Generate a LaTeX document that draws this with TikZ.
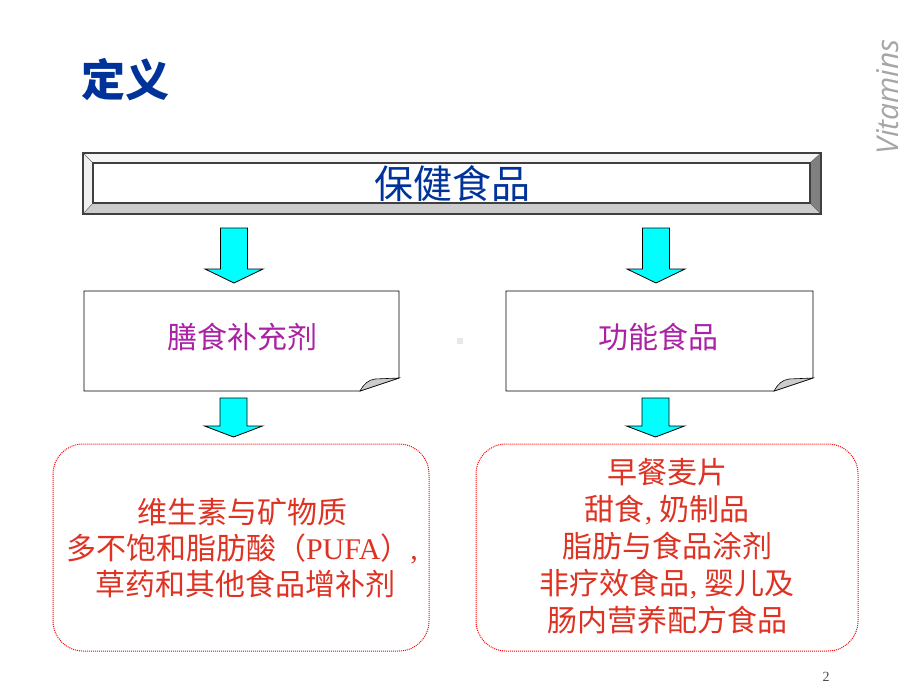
\documentclass[tikz,border=0pt]{standalone}
\usepackage{fontspec}
\newfontfamily\cjk{Noto Sans CJK SC}
\newfontfamily\lserif{Liberation Serif}
\newfontfamily\vitfont{Open Sans}
\definecolor{titleblue}{RGB}{0,51,153}
\definecolor{boxpurple}{RGB}{170,35,165}
\definecolor{textred}{RGB}{222,50,35}
\definecolor{arrowcyan}{RGB}{0,255,255}
\newcommand\blockarrow[4]{%
  \draw[arrowstyle] ({#1-13.5},#2) -- ({#1+13.5},#2) -- ({#1+13.5},#3) -- ({#1+29},#3)
    -- (#1,#4) -- ({#1-29},#3) -- ({#1-13.5},#3) -- cycle;}
\tikzset{
  arrowstyle/.style={fill=arrowcyan, draw=black, line width=0.8pt, line join=miter},
  foldbox/.style={draw=black, line width=0.9pt, fill=white},
  foldcurl/.style={fill=gray!40, draw=black, line width=0.6pt},
  redbox/.style={draw=red, densely dotted, line width=1pt, rounded corners=30pt},
  boxtext/.style={text=boxpurple, font=\cjk\fontsize{30}{30}\selectfont, inner sep=0pt},
  listtext/.style={text=textred, align=center, inner sep=0pt},
}
\begin{document}
\begin{tikzpicture}[x=1pt,y=-1pt]
\useasboundingbox (0,0) rectangle (920,690);
\fill[white] (0,0) rectangle (920,690);

% title
\node[text=titleblue, inner sep=0pt, font=\cjk\bfseries\fontsize{44}{44}\selectfont] (title) at (125,80) {定义};
% Vitamins
\node[rotate=90, text=gray!70, inner sep=0pt, font=\vitfont\itshape\fontsize{30}{30}\selectfont] (vit) at (888,97) {Vitamins};

% bevelled top box
\fill[gray!8]  (83,153) -- (821,153) -- (810,163) -- (93,163) -- cycle;
\fill[gray!12] (83,153) -- (93,163) -- (93,203) -- (83,214) -- cycle;
\fill[gray!40] (83,214) -- (93,203) -- (810,203) -- (821,214) -- cycle;
\fill[gray]    (821,153) -- (810,163) -- (810,203) -- (821,214) -- cycle;
\draw[black!60, line width=0.5pt] (83,153) -- (93,163) (821,153) -- (810,163)
  (83,214) -- (93,203) (821,214) -- (810,203);
\draw[black!75, line width=1.3pt] (83,153) rectangle (821,214);
\draw[black!75, line width=1.3pt] (93,163) rectangle (810,203);
\node[text=titleblue, inner sep=0pt, font=\cjk\fontsize{39}{39}\selectfont] (top) at (452,184) {保健食品};

% arrows top
\blockarrow{234}{228}{269}{283}
\blockarrow{656}{228}{269}{283}

% folded boxes
\draw[foldbox] (84,291) -- (399,291) -- (399,378) -- (360,391) -- (84,391) -- cycle;
\draw[foldcurl] (360,391) .. controls (364,384) and (368,380) .. (375,379) -- (399,378) -- cycle;
\node[boxtext] (diet) at (242,337) {膳食补充剂};

\draw[foldbox] (506,291) -- (813,291) -- (813,378) -- (774,391) -- (506,391) -- cycle;
\draw[foldcurl] (774,391) .. controls (778,384) and (782,380) .. (789,379) -- (813,378) -- cycle;
\node[boxtext] (func) at (658,337) {功能食品};

\fill[gray!18] (457,338) rectangle (463,344);

% arrows bottom
\blockarrow{233.5}{398}{426}{437}
\blockarrow{655.5}{398}{426}{437}

% rounded dotted boxes
\draw[redbox] (53,444) rectangle (429,651);
\draw[redbox] (476,444) rectangle (858,651);

\node[listtext, font=\cjk\fontsize{30}{36}\selectfont] (leftlist) at (242,548) {%
  维生素与矿物质\\
  多不饱和脂肪酸（{\lserif PUFA}）{\lserif ,}\\
  \ 草药和其他食品增补剂};

\node[listtext, font=\cjk\fontsize{30}{37}\selectfont] (rightlist) at (667,546) {%
  早餐麦片\\
  甜食{\lserif ,} 奶制品\\
  脂肪与食品涂剂\\
  非疗效食品{\lserif ,} 婴儿及\\
  肠内营养配方食品};

\node[text=black!70, inner sep=0pt, font=\lserif\fontsize{14}{14}\selectfont] (page) at (826,677) {2};
\end{tikzpicture}
\end{document}
